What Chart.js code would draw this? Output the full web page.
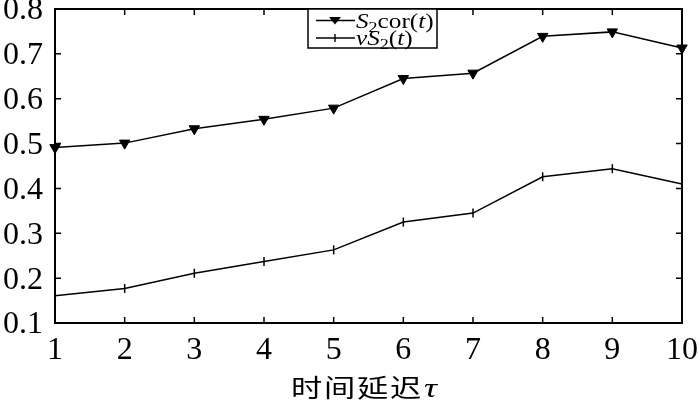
<!DOCTYPE html>
<html><head><meta charset="utf-8">
<script src="https://cdn.jsdelivr.net/npm/chart.js@4/dist/chart.umd.min.js"></script>
<style>html,body{margin:0;padding:0;background:#fff}canvas{display:block}</style>
</head><body>
<canvas id="c" width="700" height="409"></canvas>
<script>
const categories = ['1','2','3','4','5','6','7','8','9','10'];
const s2cor = [0.491, 0.501, 0.533, 0.554, 0.579, 0.645, 0.657, 0.739, 0.749, 0.713];
const vS2 = [0.161, 0.177, 0.211, 0.237, 0.263, 0.325, 0.345, 0.426, 0.444, 0.410];
const yTickValues = [0.1, 0.2, 0.3, 0.4, 0.5, 0.6, 0.7, 0.8];
const xTitleChars = ['时','间','延','迟'];
const xTitleSymbol = 'τ';
const legendLabels = [
  [{t:'S',i:true},{t:'2',sub:true},{t:'cor('},{t:'t',i:true},{t:')'}],
  [{t:'vS',i:true},{t:'2',sub:true},{t:'('},{t:'t',i:true},{t:')'}]
];

const SERIF = '"Liberation Serif", "Times New Roman", serif';
const CJK = '"Noto Sans CJK SC", sans-serif';

const framePlugin = {
  id: 'frame',
  beforeDatasetsDraw(chart) {
    const {ctx, chartArea: a, scales} = chart;
    ctx.save();
    ctx.strokeStyle = '#000';
    ctx.lineWidth = 2;
    ctx.strokeRect(a.left, a.top, a.right - a.left, a.bottom - a.top);
    ctx.lineWidth = 1.5;
    const tl = 6;
    ctx.beginPath();
    yTickValues.forEach(v => {
      const y = scales.y.getPixelForValue(v);
      ctx.moveTo(a.left, y); ctx.lineTo(a.left + tl, y);
      ctx.moveTo(a.right, y); ctx.lineTo(a.right - tl, y);
    });
    categories.forEach((c, i) => {
      const x = scales.x.getPixelForValue(i);
      ctx.moveTo(x, a.bottom); ctx.lineTo(x, a.bottom - tl);
      ctx.moveTo(x, a.top); ctx.lineTo(x, a.top + tl);
    });
    ctx.stroke();
    ctx.restore();
  },
  afterDraw(chart) {
    const {ctx, chartArea: a} = chart;
    ctx.save();
    // x axis title
    ctx.fillStyle = '#000';
    ctx.textBaseline = 'middle';
    ctx.textAlign = 'left';
    ctx.font = '25px ' + CJK;
    let tx = 291;
    xTitleChars.forEach(ch => {
      ctx.save();
      ctx.translate(tx, 387);
      ctx.scale(1.25, 1);
      ctx.fillText(ch, 0, 0);
      ctx.restore();
      tx += 33;
    });
    ctx.save();
    ctx.translate(tx + 1, 397);
    ctx.scale(1.35, 1);
    ctx.textBaseline = 'alphabetic';
    ctx.font = 'italic 27px ' + SERIF;
    ctx.fillText(xTitleSymbol, 0, 0);
    ctx.restore();

    // legend
    const bx = 308, by = a.top, bw = 129, bh = 39;
    ctx.fillStyle = '#fff';
    ctx.fillRect(bx, by, bw, bh);
    ctx.strokeStyle = '#000';
    ctx.lineWidth = 1.5;
    ctx.strokeRect(bx, by, bw, bh);
    const rows = [by + 11.5, by + 29];
    const baselines = [by + 18.5, by + 36];
    rows.forEach((ry, k) => {
      ctx.lineWidth = 1.4;
      ctx.strokeStyle = '#000';
      ctx.beginPath(); ctx.moveTo(bx + 8, ry); ctx.lineTo(bx + 47, ry); ctx.stroke();
      const mx = bx + 27;
      ctx.fillStyle = '#000';
      if (k === 0) {
        ctx.beginPath(); ctx.moveTo(mx - 6, ry - 3.5); ctx.lineTo(mx + 6, ry - 3.5); ctx.lineTo(mx, ry + 4); ctx.closePath(); ctx.fill();
      } else {
        ctx.beginPath(); ctx.moveTo(mx, ry - 4); ctx.lineTo(mx, ry + 4); ctx.stroke();
      }
      ctx.save();
      ctx.translate(bx + 48, baselines[k]);
      ctx.scale(1.2, 1);
      ctx.textBaseline = 'alphabetic';
      let x = 0;
      legendLabels[k].forEach(p => {
        const size = p.sub ? 15 : 21;
        ctx.font = (p.i ? 'italic ' : '') + size + 'px ' + SERIF;
        ctx.fillText(p.t, x, p.sub ? 4 : 0);
        x += ctx.measureText(p.t).width;
      });
      ctx.restore();
    });
    ctx.restore();
  }
};

new Chart(document.getElementById('c'), {
  type: 'line',
  data: {
    labels: categories,
    datasets: [
      {label: 'S2cor(t)', data: s2cor, borderColor: '#000', backgroundColor: '#000', borderWidth: 1.5,
       pointStyle: 'triangle', rotation: 180, pointRadius: 6, pointBackgroundColor: '#000', pointBorderColor: '#000', pointBorderWidth: 1, tension: 0, clip: false},
      {label: 'vS2(t)', data: vS2, borderColor: '#000', backgroundColor: '#000', borderWidth: 1.5,
       pointStyle: 'line', rotation: 90, pointRadius: 4.5, pointBorderColor: '#000', pointBorderWidth: 1.5, tension: 0, clip: false}
    ]
  },
  options: {
    responsive: false, animation: false, devicePixelRatio: 1,
    layout: {padding: {left: 0, right: 18, top: 9, bottom: 0}},
    plugins: {legend: {display: false}, tooltip: {enabled: false}},
    scales: {
      x: {
        type: 'category', offset: false,
        grid: {display: false, drawTicks: false}, border: {display: false},
        ticks: {color: '#000', font: {family: SERIF, size: 32}, padding: 8, maxRotation: 0, autoSkip: false},
        title: {display: false},
        afterFit(s) { s.height = 86; s.paddingLeft = 0; s.paddingRight = 0; }
      },
      y: {
        min: 0.1, max: 0.8,
        afterBuildTicks(s) { s.ticks = yTickValues.map(v => ({value: v})); },
        grid: {display: false, drawTicks: false}, border: {display: false},
        ticks: {color: '#000', font: {family: SERIF, size: 32}, padding: 12, labelOffset: 2, callback: v => Number(v).toFixed(1)},
        afterFit(s) { s.width = 55; s.paddingTop = 0; s.paddingBottom = 0; }
      }
    }
  },
  plugins: [framePlugin]
});
</script>
</body></html>
